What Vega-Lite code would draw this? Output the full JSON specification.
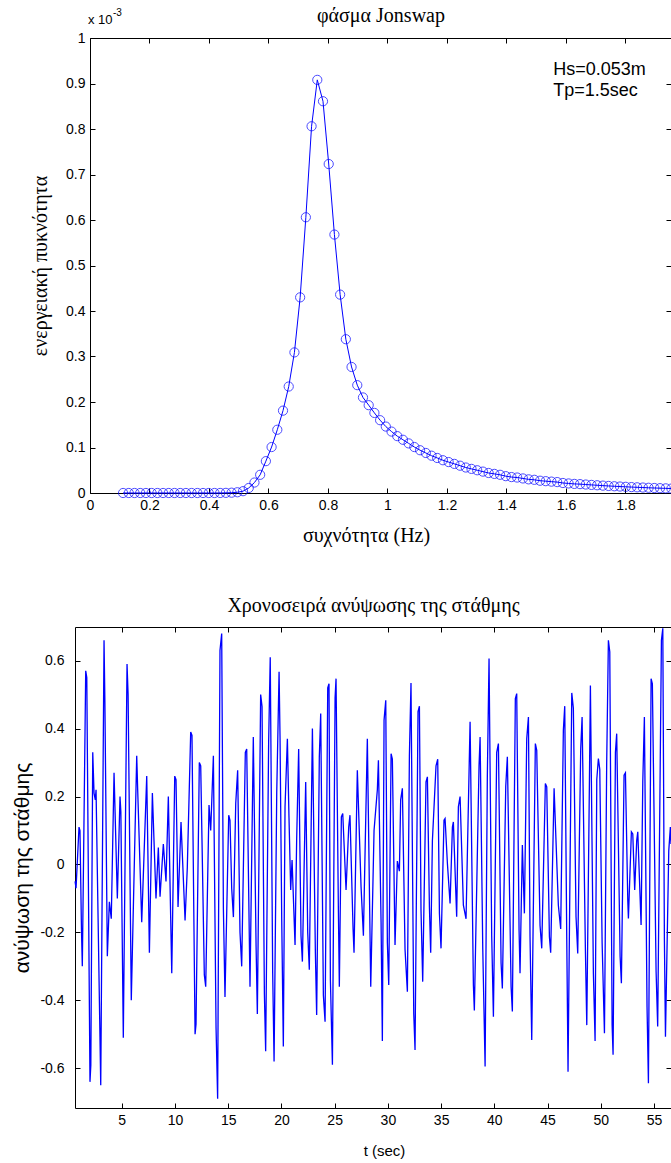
{
"$schema": "https://vega.github.io/schema/vega-lite/v6.json",
"width": 671, "height": 1163, "padding": 0, "autosize": {"type": "none"},
"background": "white",
"config": {
  "view": {"stroke": null},
  "axis": {"grid": false, "domainColor": "#000000", "tickColor": "#000000", "labelColor": "#000000", "titleColor": "#000000",
    "labelFont": "Liberation Sans", "labelFontSize": 14, "titleFontWeight": "normal", "titleFont": "Liberation Serif", "titleFontSize": 20,
    "tickSize": -5, "labelPadding": 10, "domainWidth": 1, "tickWidth": 1, "labelFlush": false, "labelOverlap": false}
},
"datasets": {
  "spectrum": [
    {"f":0.1112,"S":0},{"f":0.1304,"S":0},{"f":0.1496,"S":0},{"f":0.1688,"S":0},{"f":0.1880,"S":0},{"f":0.2072,"S":0},{"f":0.2264,"S":0},
    {"f":0.2456,"S":0},{"f":0.2648,"S":0},{"f":0.2840,"S":0},{"f":0.3032,"S":0},{"f":0.3224,"S":0},{"f":0.3416,"S":0},{"f":0.3608,"S":0},
    {"f":0.3800,"S":0},{"f":0.3992,"S":0},{"f":0.4184,"S":0},{"f":0.4376,"S":0.0001},{"f":0.4568,"S":0.0003},{"f":0.4760,"S":0.0007},
    {"f":0.4952,"S":0.0016},{"f":0.5144,"S":0.004},{"f":0.5336,"S":0.011},{"f":0.5528,"S":0.023},{"f":0.5720,"S":0.040},{"f":0.5912,"S":0.070},
    {"f":0.6104,"S":0.101},{"f":0.6296,"S":0.139},{"f":0.6488,"S":0.181},{"f":0.6680,"S":0.234},{"f":0.6872,"S":0.309},{"f":0.7064,"S":0.430},
    {"f":0.7256,"S":0.606},{"f":0.7448,"S":0.806},{"f":0.7640,"S":0.908},{"f":0.7832,"S":0.861},{"f":0.8024,"S":0.723},{"f":0.8216,"S":0.568},
    {"f":0.8408,"S":0.436},{"f":0.8600,"S":0.338},{"f":0.8792,"S":0.277},{"f":0.8984,"S":0.237},{"f":0.9176,"S":0.210},{"f":0.9368,"S":0.193},
    {"f":0.9560,"S":0.176},{"f":0.9752,"S":0.160},{"f":0.9944,"S":0.146},{"f":1.0136,"S":0.135},{"f":1.0328,"S":0.125},{"f":1.0520,"S":0.117},
    {"f":1.0712,"S":0.109},{"f":1.0904,"S":0.101},{"f":1.1096,"S":0.094},{"f":1.1288,"S":0.088},{"f":1.1480,"S":0.082},{"f":1.1672,"S":0.077},
    {"f":1.1864,"S":0.072},{"f":1.2056,"S":0.068},{"f":1.2248,"S":0.064},{"f":1.2440,"S":0.060},{"f":1.2632,"S":0.056},{"f":1.2824,"S":0.053},
    {"f":1.3016,"S":0.050},{"f":1.3208,"S":0.047},{"f":1.3400,"S":0.044},{"f":1.3592,"S":0.042},{"f":1.3784,"S":0.040},{"f":1.3976,"S":0.037},
    {"f":1.4168,"S":0.035},{"f":1.4360,"S":0.034},{"f":1.4552,"S":0.032},{"f":1.4744,"S":0.030},{"f":1.4936,"S":0.029},{"f":1.5128,"S":0.027},
    {"f":1.5320,"S":0.026},{"f":1.5512,"S":0.025},{"f":1.5704,"S":0.024},{"f":1.5896,"S":0.022},{"f":1.6088,"S":0.021},{"f":1.6280,"S":0.020},
    {"f":1.6472,"S":0.0195},{"f":1.6664,"S":0.0186},{"f":1.6856,"S":0.0178},{"f":1.7048,"S":0.0170},{"f":1.7240,"S":0.0162},{"f":1.7432,"S":0.0155},
    {"f":1.7624,"S":0.0148},{"f":1.7816,"S":0.0142},{"f":1.8008,"S":0.0136},{"f":1.8200,"S":0.0130},{"f":1.8392,"S":0.0125},{"f":1.8584,"S":0.0120},
    {"f":1.8776,"S":0.0115},{"f":1.8968,"S":0.0110},{"f":1.9160,"S":0.0106},{"f":1.9352,"S":0.0102},{"f":1.9544,"S":0.0098}
  ],
  "series": [
    {"t":0.62,"eta":-0.05},{"t":0.71,"eta":-0.07},{"t":0.99,"eta":0.11},{"t":1.08,"eta":0.10},{"t":1.22,"eta":-0.19},{"t":1.30,"eta":-0.30},
    {"t":1.62,"eta":0.57},{"t":1.72,"eta":0.55},{"t":2.02,"eta":-0.64},{"t":2.10,"eta":-0.59},{"t":2.28,"eta":0.33},{"t":2.40,"eta":0.21},
    {"t":2.52,"eta":0.19},{"t":2.59,"eta":0.22},{"t":3.03,"eta":-0.65},{"t":3.34,"eta":0.66},{"t":3.42,"eta":0.48},{"t":3.65,"eta":-0.27},
    {"t":3.84,"eta":-0.11},{"t":4.02,"eta":-0.16},{"t":4.28,"eta":0.27},{"t":4.59,"eta":-0.10},{"t":4.84,"eta":0.20},{"t":4.92,"eta":0.155},
    {"t":5.15,"eta":-0.51},{"t":5.50,"eta":0.59},{"t":5.60,"eta":0.50},{"t":5.90,"eta":-0.40},{"t":6.41,"eta":0.32},{"t":6.50,"eta":0.22},
    {"t":6.88,"eta":-0.17},{"t":7.35,"eta":0.26},{"t":7.60,"eta":-0.26},{"t":7.88,"eta":0.21},{"t":8.22,"eta":-0.10},{"t":8.44,"eta":0.05},
    {"t":8.60,"eta":-0.095},{"t":8.91,"eta":0.06},{"t":9.16,"eta":-0.05},{"t":9.38,"eta":0.20},{"t":9.70,"eta":-0.32},{"t":9.98,"eta":0.26},
    {"t":10.10,"eta":0.25},{"t":10.29,"eta":-0.125},{"t":10.57,"eta":0.125},{"t":10.95,"eta":-0.165},{"t":11.16,"eta":-0.01},{"t":11.48,"eta":0.39},
    {"t":11.60,"eta":0.38},{"t":11.89,"eta":-0.50},{"t":11.98,"eta":-0.47},{"t":12.29,"eta":0.30},{"t":12.42,"eta":0.29},{"t":12.76,"eta":-0.325},
    {"t":12.89,"eta":-0.36},{"t":13.20,"eta":0.175},{"t":13.36,"eta":0.10},{"t":13.61,"eta":0.32},{"t":13.86,"eta":-0.48},{"t":14.01,"eta":-0.69},
    {"t":14.23,"eta":0.63},{"t":14.39,"eta":0.68},{"t":14.55,"eta":-0.13},{"t":14.70,"eta":-0.39},{"t":15.05,"eta":0.145},{"t":15.17,"eta":0.13},
    {"t":15.33,"eta":-0.07},{"t":15.49,"eta":-0.155},{"t":15.71,"eta":0.18},{"t":15.89,"eta":0.277},{"t":16.11,"eta":-0.20},{"t":16.27,"eta":-0.30},
    {"t":16.61,"eta":0.33},{"t":16.74,"eta":0.34},{"t":17.05,"eta":-0.36},{"t":17.36,"eta":0.375},{"t":17.62,"eta":-0.24},{"t":17.74,"eta":-0.44},
    {"t":18.05,"eta":0.50},{"t":18.18,"eta":0.465},{"t":18.40,"eta":-0.38},{"t":18.52,"eta":-0.55},{"t":18.80,"eta":0.36},{"t":18.95,"eta":0.61},
    {"t":19.18,"eta":-0.32},{"t":19.31,"eta":-0.58},{"t":19.56,"eta":0.21},{"t":19.78,"eta":0.567},{"t":19.87,"eta":0.375},{"t":20.03,"eta":-0.165},
    {"t":20.18,"eta":-0.536},{"t":20.34,"eta":0.17},{"t":20.56,"eta":0.37},{"t":20.71,"eta":0.14},{"t":20.87,"eta":-0.075},{"t":21.00,"eta":0.013},
    {"t":21.28,"eta":-0.237},{"t":21.43,"eta":0.07},{"t":21.62,"eta":0.34},{"t":21.84,"eta":-0.21},{"t":21.97,"eta":-0.286},{"t":22.28,"eta":0.243},
    {"t":22.47,"eta":-0.20},{"t":22.62,"eta":-0.31},{"t":22.91,"eta":0.40},{"t":23.19,"eta":-0.26},{"t":23.31,"eta":-0.443},{"t":23.56,"eta":0.317},
    {"t":23.69,"eta":0.444},{"t":23.94,"eta":-0.385},{"t":24.10,"eta":-0.463},{"t":24.35,"eta":0.52},{"t":24.47,"eta":0.532},{"t":24.60,"eta":-0.34},
    {"t":24.79,"eta":-0.59},{"t":25.04,"eta":0.49},{"t":25.13,"eta":0.547},{"t":25.35,"eta":-0.134},{"t":25.44,"eta":-0.36},{"t":25.63,"eta":0.14},
    {"t":25.76,"eta":0.15},{"t":26.07,"eta":-0.075},{"t":26.32,"eta":0.11},{"t":26.44,"eta":0.145},{"t":26.73,"eta":-0.19},{"t":26.82,"eta":-0.26},
    {"t":27.13,"eta":0.277},{"t":27.48,"eta":-0.066},{"t":27.70,"eta":-0.21},{"t":28.07,"eta":0.37},{"t":28.39,"eta":-0.36},{"t":28.70,"eta":0.10},
    {"t":29.01,"eta":0.22},{"t":29.11,"eta":0.307},{"t":29.36,"eta":-0.17},{"t":29.48,"eta":-0.52},{"t":29.64,"eta":0.425},{"t":29.80,"eta":0.483},
    {"t":29.95,"eta":-0.23},{"t":30.08,"eta":-0.355},{"t":30.30,"eta":0.326},{"t":30.42,"eta":0.31},{"t":30.67,"eta":-0.237},{"t":30.89,"eta":0.01},
    {"t":31.08,"eta":-0.02},{"t":31.20,"eta":0.19},{"t":31.36,"eta":0.224},{"t":31.61,"eta":-0.25},{"t":31.83,"eta":-0.375},{"t":32.02,"eta":0.32},
    {"t":32.17,"eta":0.534},{"t":32.43,"eta":-0.44},{"t":32.55,"eta":-0.546},{"t":32.83,"eta":0.45},{"t":32.96,"eta":0.466},{"t":33.11,"eta":-0.134},
    {"t":33.27,"eta":-0.345},{"t":33.58,"eta":0.243},{"t":33.71,"eta":0.258},{"t":33.90,"eta":-0.125},{"t":34.02,"eta":-0.26},{"t":34.18,"eta":0.07},
    {"t":34.52,"eta":0.29},{"t":34.68,"eta":0.31},{"t":34.84,"eta":-0.144},{"t":34.99,"eta":-0.247},{"t":35.27,"eta":0.13},{"t":35.37,"eta":0.135},
    {"t":35.59,"eta":0.003},{"t":35.84,"eta":-0.115},{"t":36.06,"eta":0.11},{"t":36.15,"eta":0.125},{"t":36.46,"eta":-0.154},{"t":36.62,"eta":0.17},
    {"t":36.78,"eta":0.20},{"t":37.09,"eta":-0.12},{"t":37.34,"eta":-0.16},{"t":37.72,"eta":0.42},{"t":38.03,"eta":-0.355},{"t":38.12,"eta":-0.43},
    {"t":38.56,"eta":0.29},{"t":38.66,"eta":0.375},{"t":38.91,"eta":-0.247},{"t":39.13,"eta":-0.595},{"t":39.34,"eta":0.26},{"t":39.50,"eta":0.606},
    {"t":39.75,"eta":-0.21},{"t":39.91,"eta":-0.448},{"t":40.22,"eta":0.33},{"t":40.38,"eta":0.356},{"t":40.63,"eta":-0.29},{"t":40.75,"eta":-0.365},
    {"t":41.07,"eta":0.23},{"t":41.22,"eta":0.317},{"t":41.57,"eta":-0.36},{"t":41.69,"eta":-0.433},{"t":41.97,"eta":0.488},{"t":42.10,"eta":0.503},
    {"t":42.32,"eta":-0.193},{"t":42.41,"eta":-0.32},{"t":42.63,"eta":0.057},{"t":42.82,"eta":-0.144},{"t":43.04,"eta":0.37},{"t":43.20,"eta":0.434},
    {"t":43.35,"eta":-0.213},{"t":43.51,"eta":-0.517},{"t":43.85,"eta":0.356},{"t":43.98,"eta":0.336},{"t":44.29,"eta":-0.18},{"t":44.45,"eta":-0.247},
    {"t":44.79,"eta":0.238},{"t":44.92,"eta":0.228},{"t":45.17,"eta":-0.213},{"t":45.29,"eta":-0.26},{"t":45.61,"eta":0.224},{"t":46.01,"eta":-0.12},
    {"t":46.23,"eta":-0.19},{"t":46.48,"eta":0.395},{"t":46.61,"eta":0.466},{"t":46.80,"eta":-0.22},{"t":46.92,"eta":-0.61},{"t":47.27,"eta":0.505},
    {"t":47.42,"eta":0.46},{"t":47.67,"eta":-0.154},{"t":47.83,"eta":-0.262},{"t":48.11,"eta":0.34},{"t":48.24,"eta":0.434},{"t":48.55,"eta":-0.25},
    {"t":48.68,"eta":-0.473},{"t":48.93,"eta":0.25},{"t":49.02,"eta":0.527},{"t":49.30,"eta":-0.32},{"t":49.46,"eta":-0.52},{"t":49.62,"eta":0.25},
    {"t":49.77,"eta":0.312},{"t":49.90,"eta":0.28},{"t":50.12,"eta":-0.23},{"t":50.34,"eta":-0.497},{"t":50.55,"eta":0.30},{"t":50.71,"eta":0.66},
    {"t":50.84,"eta":0.626},{"t":51.06,"eta":-0.473},{"t":51.15,"eta":-0.56},{"t":51.37,"eta":0.33},{"t":51.49,"eta":0.385},{"t":51.81,"eta":-0.27},
    {"t":51.93,"eta":-0.35},{"t":52.18,"eta":0.263},{"t":52.31,"eta":0.27},{"t":52.53,"eta":-0.105},{"t":52.59,"eta":-0.159},{"t":52.87,"eta":0.096},
    {"t":53.00,"eta":0.09},{"t":53.18,"eta":-0.075},{"t":53.37,"eta":0.07},{"t":53.47,"eta":0.096},{"t":53.78,"eta":-0.178},{"t":53.94,"eta":0.243},
    {"t":54.09,"eta":0.434},{"t":54.34,"eta":-0.42},{"t":54.47,"eta":-0.644},{"t":54.72,"eta":0.547},{"t":54.84,"eta":0.532},{"t":55.19,"eta":-0.315},
    {"t":55.34,"eta":-0.477},{"t":55.69,"eta":0.66},{"t":55.82,"eta":0.695},{"t":55.97,"eta":-0.22},{"t":56.07,"eta":-0.507},{"t":56.38,"eta":0.04},
    {"t":56.53,"eta":0.11},{"t":56.59,"eta":0.06}
  ]
},
"layer": [
  {
    "data": {"name": "spectrum"},
    "layer": [
      {
        "mark": {"type": "line", "color": "#0000ff", "strokeWidth": 1},
        "encoding": {
          "x": {"field": "f", "type": "quantitative",
            "scale": {"domain": [0, 1.953], "range": [90, 671], "nice": false, "zero": false},
            "axis": {"orient": "bottom", "offset": -670, "values": [0,0.2,0.4,0.6,0.8,1,1.2,1.4,1.6,1.8], "format": "~g",
              "title": "συχνότητα (Hz)", "titleX": 366, "titleY": 42, "titleBaseline": "middle"}},
          "y": {"field": "S", "type": "quantitative",
            "scale": {"domain": [0, 1], "range": [493, 38], "nice": false, "zero": false},
            "axis": {"orient": "left", "offset": -90, "values": [0,0.1,0.2,0.3,0.4,0.5,0.6,0.7,0.8,0.9,1], "format": "~g",
              "title": "ενεργειακή πυκνότητα", "titleX": -50, "titleBaseline": "middle"}}
        }
      },
      {
        "mark": {"type": "point", "shape": "circle", "filled": false, "size": 85, "strokeWidth": 1, "color": "#0000ff"},
        "encoding": {
          "x": {"field": "f", "type": "quantitative",
            "axis": {"orient": "top", "offset": -38, "values": [0,0.2,0.4,0.6,0.8,1,1.2,1.4,1.6,1.8], "labels": false,
              "title": "φάσμα Jonswap", "titleY": -23, "titleBaseline": "middle"}},
          "y": {"field": "S", "type": "quantitative",
            "axis": {"orient": "right", "offset": 0, "values": [0,0.1,0.2,0.3,0.4,0.5,0.6,0.7,0.8,0.9,1], "labels": false, "title": null}}
        }
      },
      {
        "data": {"values": [{"label": "Hs=0.053m"}]},
        "mark": {"type": "text", "align": "left", "baseline": "middle", "font": "Liberation Sans", "fontSize": 18, "color": "#000000"},
        "encoding": {
          "x": {"datum": 1.557, "type": "quantitative", "axis": null},
          "y": {"datum": 0.93, "type": "quantitative", "axis": null},
          "text": {"field": "label"}
        }
      },
      {
        "data": {"values": [{"label": "Tp=1.5sec"}]},
        "mark": {"type": "text", "align": "left", "baseline": "middle", "font": "Liberation Sans", "fontSize": 18, "color": "#000000"},
        "encoding": {
          "x": {"datum": 1.557, "type": "quantitative", "axis": null},
          "y": {"datum": 0.8835, "type": "quantitative", "axis": null},
          "text": {"field": "label"}
        }
      },
      {
        "data": {"values": [{"label": "x 10"}]},
        "mark": {"type": "text", "align": "left", "baseline": "middle", "font": "Liberation Sans", "fontSize": 13, "color": "#000000", "dx": -2, "dy": -18},
        "encoding": {
          "x": {"datum": 0, "type": "quantitative", "axis": null},
          "y": {"datum": 1, "type": "quantitative", "axis": null},
          "text": {"field": "label"}
        }
      },
      {
        "data": {"values": [{"label": "-3"}]},
        "mark": {"type": "text", "align": "left", "baseline": "middle", "font": "Liberation Sans", "fontSize": 10, "color": "#000000", "dx": 23, "dy": -25},
        "encoding": {
          "x": {"datum": 0, "type": "quantitative", "axis": null},
          "y": {"datum": 1, "type": "quantitative", "axis": null},
          "text": {"field": "label"}
        }
      }
    ],
    "resolve": {"axis": {"x": "independent", "y": "independent"}}
  },
  {
    "data": {"name": "series"},
    "layer": [
      {
        "mark": {"type": "line", "color": "#0000ff", "strokeWidth": 1.3},
        "encoding": {
          "x": {"field": "t", "type": "quantitative",
            "scale": {"domain": [0.613, 56.59], "range": [75, 671], "nice": false, "zero": false},
            "axis": {"orient": "bottom", "offset": -55, "values": [5,10,15,20,25,30,35,40,45,50,55], "format": "~g",
              "title": "t (sec)", "titleFont": "Liberation Sans", "titleFontSize": 15, "titleX": 384, "titleY": 42, "titleBaseline": "middle"}},
          "y": {"field": "eta", "type": "quantitative",
            "scale": {"domain": [-0.717, 0.699], "range": [1108, 627], "nice": false, "zero": false},
            "axis": {"orient": "left", "offset": -75, "values": [-0.6,-0.4,-0.2,0,0.2,0.4,0.6], "labelPadding": 16,
              "labelExpr": "datum.value < 0 ? '-' + format(-datum.value, '~g') : format(datum.value, '~g')",
              "title": "ανύψωση της στάθμης", "titleFont": "Liberation Sans", "titleFontSize": 21, "titleX": -53, "titleBaseline": "middle"}}
        }
      },
      {
        "mark": {"type": "line", "opacity": 0},
        "encoding": {
          "x": {"field": "t", "type": "quantitative",
            "axis": {"orient": "top", "offset": -627, "values": [5,10,15,20,25,30,35,40,45,50,55], "labels": false,
              "title": "Χρονοσειρά ανύψωσης της στάθμης", "titleY": -22, "titleBaseline": "middle"}},
          "y": {"field": "eta", "type": "quantitative",
            "axis": {"orient": "right", "offset": 0, "values": [-0.6,-0.4,-0.2,0,0.2,0.4,0.6], "labels": false, "title": null}}
        }
      }
    ],
    "resolve": {"axis": {"x": "independent", "y": "independent"}}
  }
],
"resolve": {"scale": {"x": "independent", "y": "independent"}, "axis": {"x": "independent", "y": "independent"}}
}
